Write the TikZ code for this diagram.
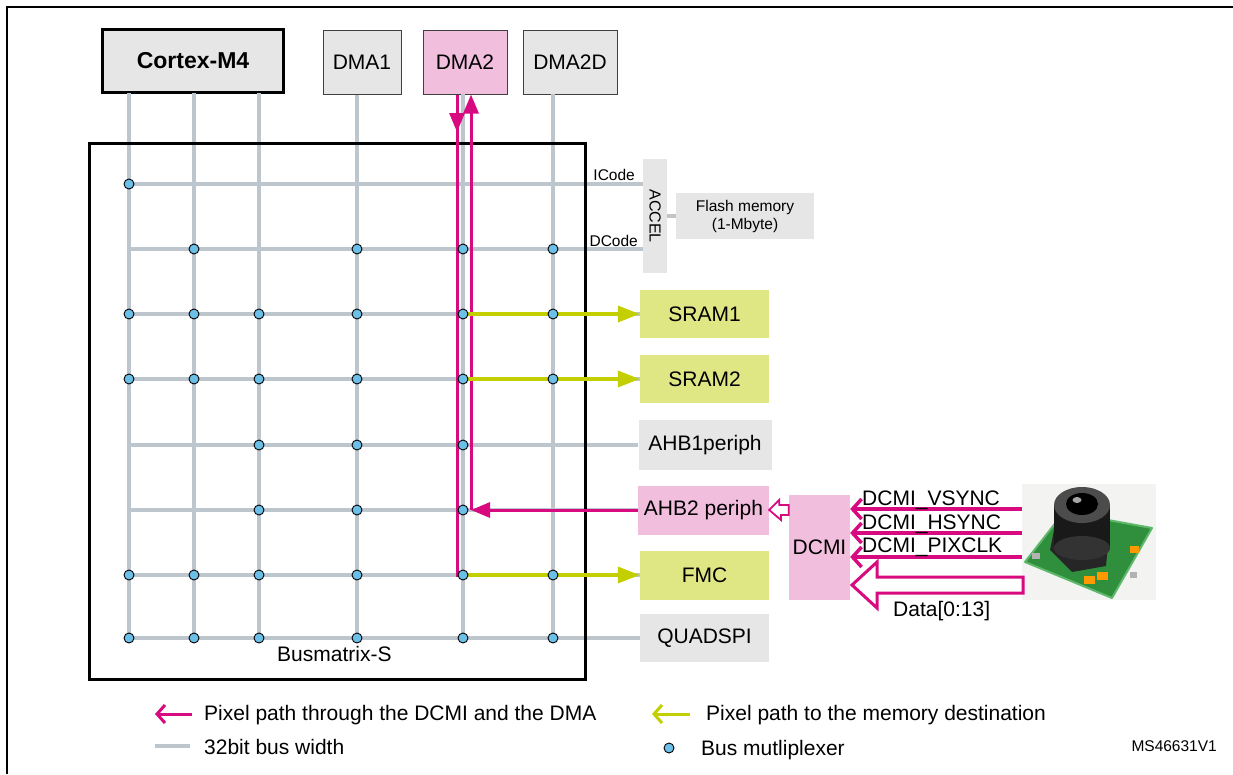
\documentclass[tikz,border=0pt]{standalone}
\usepackage{fontspec}
\setmainfont{Liberation Sans}
\usetikzlibrary{arrows.meta,calc}
\definecolor{mag}{HTML}{D70A80}
\definecolor{pinkfill}{HTML}{F2BEDE}
\definecolor{ygline}{HTML}{C3CF00}
\definecolor{ygfill}{HTML}{DFE684}
\definecolor{busgray}{HTML}{BCC6CC}
\definecolor{boxgray}{HTML}{E6E6E6}
\definecolor{muxblue}{HTML}{6CC0E8}
\definecolor{camback}{HTML}{F3F3F1}
\definecolor{pcbgreen}{HTML}{2F8F3C}
\definecolor{pcbedge}{HTML}{5DB86A}
\newcommand\fsbig{\fontsize{21}{24}\selectfont}
\newcommand\fssmall{\fontsize{15.5}{18}\selectfont}
\begin{document}
\begin{tikzpicture}[x=1pt,y=-1pt,
  bus/.style={draw=busgray, line width=4pt},
  mux/.style={circle, draw=black, fill=muxblue, line width=0.9pt, inner sep=0pt, minimum size=10pt},
  gbox/.style={fill=boxgray, inner sep=0pt, font=\fsbig},
  ybox/.style={fill=ygfill, inner sep=0pt, font=\fsbig},
  pbox/.style={fill=pinkfill, inner sep=0pt, font=\fsbig},
  master/.style={draw=black!75, line width=1pt, inner sep=0pt, font=\fsbig, minimum height=64pt},
  magline/.style={draw=mag, line width=3pt},
  magarrow/.style={magline, -{Triangle[length=19pt,width=15pt]}},
  ygarrow/.style={draw=ygline, line width=3.5pt, -{Triangle[length=22pt,width=16pt]}},
  sigarrow/.style={draw=mag, line width=3.5pt, -{Straight Barb[length=9pt,width=20pt]}},
  lbl/.style={inner sep=0pt, font=\fsbig},
  slbl/.style={inner sep=0pt, font=\fssmall}
]
\useasboundingbox (0,0) rectangle (1233,774);
% frame
\draw[line width=2.5pt] (1233,7) -- (7,7) -- (7,774);

% masters
\node[master, draw=black, line width=3pt, fill=boxgray, minimum width=181pt, minimum height=63pt,
      font=\fontsize{23}{26}\selectfont\bfseries] (cortex) at (193,61) {Cortex-M4};
\node[master, fill=boxgray, minimum width=78pt] (dma1) at (362,62) {DMA1};
\node[master, fill=pinkfill, minimum width=84pt] (dma2) at (465,62) {DMA2};
\node[master, fill=boxgray, minimum width=94pt] (dma2d) at (570,62) {DMA2D};

% slaves
\node[gbox, minimum width=24pt, minimum height=114pt] (accel) at (655,216) {};
\node[slbl, rotate=-90, font=\fontsize{16}{18}\selectfont] at (accel.center) {ACCEL};
\node[gbox, font=\fssmall, align=center, minimum width=138pt, minimum height=46pt] (flash) at (745,216) {Flash memory\\(1-Mbyte)};
\node[ybox, minimum width=129pt, minimum height=48pt] (sram1) at (704.5,314) {SRAM1};
\node[ybox, minimum width=129pt, minimum height=48pt] (sram2) at (704.5,379) {SRAM2};
\node[gbox, minimum width=133pt, minimum height=50pt] (ahb1) at (705,445) {AHB1periph};
\node[pbox, minimum width=131pt, minimum height=49pt] (ahb2) at (703.5,510) {AHB2 periph};
\node[ybox, minimum width=129pt, minimum height=49pt] (fmc) at (704.5,575) {FMC};
\node[gbox, minimum width=129pt, minimum height=48pt] (qspi) at (704.5,638) {QUADSPI};
\node[pbox, minimum width=61pt, minimum height=105pt] (dcmi) at (819.5,547.5) {DCMI};

% bus grid
\foreach \x in {129,194,259} \draw[bus] (\x,93) -- (\x,638);
\draw[bus] (dma1.south) ++(-5,0) -- (357,638);
\draw[bus] (463,94) -- (463,638);
\draw[bus] (553,94) -- (553,638);
\coordinate (ic) at (129,184);
\coordinate (dc) at (129,249);
\draw[bus] (ic) -- (ic -| accel.west);
\draw[bus] (dc) -- (dc -| accel.west);
\draw[bus] (129,314) -- (sram1.west);
\draw[bus] (129,379) -- (sram2.west);
\draw[bus] (129,445) -- (ahb1.west);
\draw[bus] (129,510) -- (ahb2.west);
\draw[bus] (129,575) -- (fmc.west);
\draw[bus] (129,638) -- (qspi.west);
\draw[bus] (accel.east) -- (flash.west);

\node[slbl, anchor=base east] at (635,180.5) {ICode};
\node[slbl, anchor=base east] at (638,246) {DCode};

% busmatrix
\node[draw, line width=3pt, minimum width=496pt, minimum height=536pt, inner sep=0pt] (bm) at (337,411) {};
\node[lbl, anchor=base west] at (277,661.5) {Busmatrix-S};

% pixel paths
\draw[magline] ([xshift=-8pt]dma2.south) -- (457,575) -- (463,575);
\draw[magarrow] ([xshift=-8pt]dma2.south) -- (457,132);
\draw[magarrow] (471,510) -- ([xshift=6pt]dma2.south);
\draw[magarrow] (ahb2.west) -- (471,510);
\draw[ygarrow] (463,314) -- (sram1.west);
\draw[ygarrow] (463,379) -- (sram2.west);
\draw[ygarrow] (463,575) -- (fmc.west);

% multiplexers
\node[mux] at (129,184) {};
\foreach \x in {194,357,463,553} \node[mux] at (\x,249) {};
\foreach \x in {129,194,259,357,463,553} {
  \node[mux] at (\x,314) {};
  \node[mux] at (\x,379) {};
  \node[mux] at (\x,575) {};
  \node[mux] at (\x,638) {};
}
\foreach \x in {259,357,463} {
  \node[mux] at (\x,445) {};
  \node[mux] at (\x,510) {};
}

% DCMI -> AHB2 hollow arrow
\draw[draw=mag, fill=white, line width=1.8pt, line join=miter]
  (ahb2.east) -- ++(10,-10) -- ++(0,5) -- (dcmi.west |- 0,505) -- (dcmi.west |- 0,515) -- (781,515) -- ++(0,5) -- cycle;

% camera
\node[fill=camback, minimum width=134pt, minimum height=116pt, inner sep=0pt] (cam) at (1089,542) {};
\fill[pcbgreen] (1025,562) -- (1064,512) -- (1152,528) -- (1112,598) -- cycle;
\draw[pcbedge, line width=2pt, line join=round] (1025,562) -- (1064,512) -- (1152,528) -- (1112,598) -- cycle;
\fill[black!85] (1050,550) -- (1056,520) -- (1110,524) -- (1106,566) -- (1072,572) -- cycle;
\fill[black!90] (1054,505) rectangle (1110,548);
\fill[black!80] (1082,548) ellipse [x radius=28pt, y radius=12pt];
\fill[black!70] (1082,505) ellipse [x radius=28pt, y radius=18pt];
\fill[black] (1082,504) ellipse [x radius=16pt, y radius=11pt];
\fill[gray!70] (1077,500) ellipse [x radius=4.5pt, y radius=3pt];
\fill[orange!80!yellow] (1084,576) rectangle (1095,584);
\fill[orange!80!yellow] (1097,572) rectangle (1108,580);
\fill[orange!80!yellow] (1130,546) rectangle (1139,553);
\fill[gray!60] (1032,553) rectangle (1040,559);
\fill[gray!60] (1130,572) rectangle (1137,578);

% camera signals
\coordinate (s1) at (0,509);
\coordinate (s2) at (0,533);
\coordinate (s3) at (0,557);
\draw[sigarrow] (cam.west |- s1) -- (dcmi.east |- s1);
\draw[sigarrow] (cam.west |- s2) -- (dcmi.east |- s2);
\draw[sigarrow] (cam.west |- s3) -- (dcmi.east |- s3);
\node[lbl, anchor=base west] at (862,505) {DCMI\_VSYNC};
\node[lbl, anchor=base west] at (862,529) {DCMI\_HSYNC};
\node[lbl, anchor=base west] at (862,552) {DCMI\_PIXCLK};
\draw[draw=mag, fill=white, line width=3pt, line join=miter]
  (852,585) -- (877,562) -- (877,577) -- (1023,577) -- (1023,593) -- (877,593) -- (877,608) -- cycle;
\node[lbl, anchor=base west] at (893,616) {Data[0:13]};

% legend
\coordinate (la) at (192,714);
\coordinate (lb) at (690,714);
\draw[draw=mag, line width=3pt, -{Straight Barb[length=8pt,width=18pt]}] (la) -- ++(-37,0);
\node[lbl, anchor=base west] at (204,720.5) {Pixel path through the DCMI and the DMA};
\draw[draw=ygline, line width=3pt, -{Straight Barb[length=8pt,width=18pt]}] (lb) -- ++(-38,0);
\node[lbl, anchor=base west] at (706,720.5) {Pixel path to the memory destination};
\draw[bus] (155,746) -- (190,746);
\node[lbl, anchor=base west] at (204,754) {32bit bus width};
\node[mux] at (669,748) {};
\node[lbl, anchor=base west] at (701,755) {Bus mutliplexer};
\node[slbl, anchor=base east] at (1217,751.5) {MS46631V1};
\end{tikzpicture}
\end{document}
